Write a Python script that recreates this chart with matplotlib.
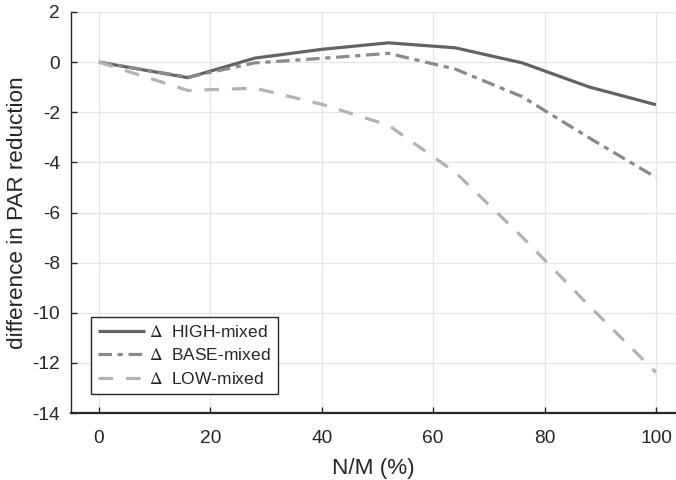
import matplotlib
matplotlib.use("Agg")
import matplotlib.pyplot as plt

x_nm = [0, 16, 28, 40, 52, 64, 76, 88, 100]
high_mixed = [0.0, -0.62, 0.16, 0.51, 0.77, 0.57, -0.03, -0.99, -1.70]
base_mixed = [0.0, -0.60, -0.03, 0.15, 0.35, -0.28, -1.38, -3.02, -4.60]
low_mixed = [0.0, -1.13, -1.04, -1.68, -2.52, -4.40, -6.98, -9.72, -12.38]
labels = [r"$\Delta$  HIGH-mixed", r"$\Delta$  BASE-mixed", r"$\Delta$  LOW-mixed"]
xticks = [0, 20, 40, 60, 80, 100]
yticks = [2, 0, -2, -4, -6, -8, -10, -12, -14]

plt.rcParams['font.family'] = ['Liberation Sans', 'DejaVu Sans']
plt.rcParams['mathtext.fontset'] = 'stix'
plt.rcParams['axes.unicode_minus'] = False

fig = plt.figure(figsize=(6.76, 4.8), dpi=100)
ax = fig.add_axes([71/676, 1 - 413/480, 1 - 71/676, (413 - 12)/480])

ax.plot(x_nm, high_mixed, color='#636363', lw=2.3, solid_capstyle='butt', label=labels[0], zorder=3)
ax.plot(x_nm, base_mixed, color='#8a8a8a', lw=2.3, dashes=(4.2, 1.8, 1.6, 1.8), label=labels[1], zorder=3)
ax.plot(x_nm, low_mixed, color='#b3b3b3', lw=2.3, dashes=(4.6, 4.0), label=labels[2], zorder=3)

ax.set_xlim(-5, 103.6)
ax.set_ylim(-14, 2)
ax.set_xticks(xticks)
ax.set_yticks(yticks)
ax.grid(True, color='#e6e6e6', lw=0.9)
ax.set_axisbelow(True)

for s in ['top', 'right']:
    ax.spines[s].set_visible(False)
ax.spines['left'].set_color('#262626')
ax.spines['bottom'].set_color('#262626')
ax.spines['left'].set_linewidth(1.0)
ax.spines['bottom'].set_linewidth(1.6)
ax.tick_params(direction='in', length=4, width=1.0, colors='#262626', labelsize=13.8)
ax.tick_params(axis='x', pad=12)
ax.tick_params(axis='y', pad=8)

ax.set_xlabel('N/M (%)', fontsize=16.2, color='#262626', labelpad=8)
ax.set_ylabel('difference in PAR reduction', fontsize=16.2, color='#262626', labelpad=3)

leg = ax.legend(loc='lower left', bbox_to_anchor=(0.033, 0.047), borderaxespad=0,
                fontsize=12.5, handlelength=2.7, handletextpad=0.25, labelspacing=0.45,
                fancybox=False, framealpha=1, edgecolor='#262626', borderpad=0.4)
leg.get_frame().set_linewidth(1.0)
for t in leg.get_texts():
    t.set_color('#262626')

fig.savefig('out.png', dpi=100)
